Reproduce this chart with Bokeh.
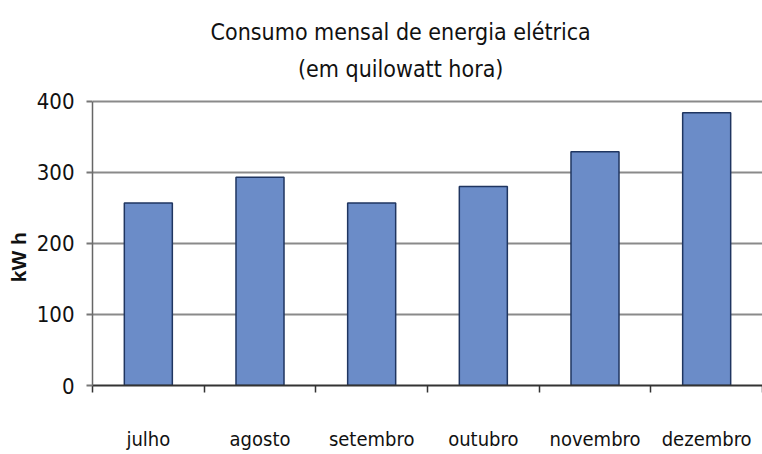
from bokeh.plotting import figure
from bokeh.models import ColumnDataSource, FixedTicker, Range1d, Label
from bokeh.embed import file_html
from bokeh.resources import INLINE

months = ["julho", "agosto", "setembro", "outubro", "novembro", "dezembro"]
consumo = [257, 293, 257, 280, 329, 384]
y_ticks = [0, 100, 200, 300, 400]
title_lines = ["Consumo mensal de energia elétrica", "(em quilowatt hora)"]
y_label = "kW h"

FONT = "DejaVu Sans Condensed"
Y_MAX = 400          # top of the value axis
Y_TOP = 542          # frame top (leaves room for the title inside the frame)
TITLE_X = 2.76       # title centre, in category units
TITLE_Y = [497, 446] # title line centres, in value units

centers = [i + 0.5 for i in range(len(months))]
src = ColumnDataSource(dict(x=centers, top=consumo, m=months))

p = figure(width=762, height=454, output_backend="svg", toolbar_location=None,
           x_range=Range1d(0, len(months)), y_range=Range1d(0, Y_TOP),
           min_border_left=92, min_border_right=0, min_border_bottom=69, min_border_top=0)
p.outline_line_color = None
p.background_fill_color = "white"
p.border_fill_color = "white"

p.vbar(x="x", top="top", width=0.43, bottom=0, source=src,
       fill_color="#6b8cc8", line_color="#1f3560", line_width=1.5)

# two-line title
for txt, ypos in zip(title_lines, TITLE_Y):
    p.add_layout(Label(x=TITLE_X, y=ypos, text=txt,
                       text_font=FONT, text_font_size="23px", text_color="#111111",
                       text_align="center", text_baseline="middle"))

# y axis (label padded with no-break spaces so it sits centred on the 0-400 span)
p.yaxis.ticker = FixedTicker(ticks=y_ticks)
p.yaxis.bounds = (0, Y_MAX)
p.yaxis.axis_label = y_label + "\u00a0" * 22
p.yaxis.axis_label_text_font = "Liberation Sans"
p.yaxis.axis_label_text_font_style = "bold"
p.yaxis.axis_label_text_font_size = "21px"
p.yaxis.axis_label_text_color = "#111111"
p.yaxis.axis_label_standoff = 4
p.yaxis.major_label_text_font = FONT
p.yaxis.major_label_text_font_size = "22px"
p.yaxis.major_label_text_color = "#111111"
p.yaxis.major_label_standoff = 12
p.yaxis.major_tick_in = 0
p.yaxis.major_tick_out = 6
p.yaxis.major_tick_line_color = "#777777"
p.yaxis.major_tick_line_width = 2
p.yaxis.minor_tick_line_color = None
p.yaxis.axis_line_color = "#666666"
p.yaxis.axis_line_width = 1.5

# x axis: labels at centers, ticks at boundaries
p.xaxis.ticker = FixedTicker(ticks=centers, minor_ticks=list(range(len(months) + 1)))
p.xaxis.major_label_overrides = {c: m for c, m in zip(centers, months)}
p.xaxis.major_label_text_font = FONT
p.xaxis.major_label_text_font_size = "20px"
p.xaxis.major_label_text_color = "#111111"
p.xaxis.major_label_standoff = 34
p.xaxis.major_tick_line_color = None
p.xaxis.minor_tick_in = 0
p.xaxis.minor_tick_out = 7
p.xaxis.minor_tick_line_color = "#333333"
p.xaxis.minor_tick_line_width = 1.5
p.xaxis.axis_line_color = "#333333"
p.xaxis.axis_line_width = 2

p.xgrid.grid_line_color = None
p.ygrid.grid_line_color = "#8a8a8a"
p.ygrid.grid_line_width = 2

open("out.html", "w").write(file_html(p, INLINE))
